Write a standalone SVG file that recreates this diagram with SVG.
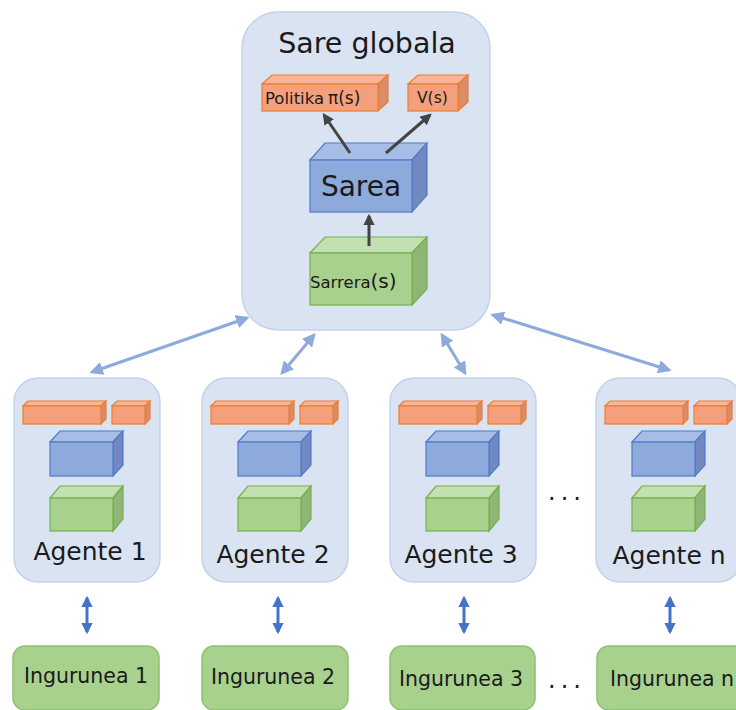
<svg xmlns="http://www.w3.org/2000/svg" width="736" height="710" viewBox="0 0 736 710">
  <defs>
    <style>
      text { font-family: "DejaVu Sans", "Liberation Sans", sans-serif; fill: #1a1a1a; }
      .panel { fill: #d9e3f2; stroke: #c3d2ea; stroke-width: 1.5; }
      .env { fill: #a9d18e; stroke: #8cc070; stroke-width: 1.5; }
      .o-front { fill: #f4a07c; stroke: #ed7d31; stroke-width: 1.2; }
      .o-top { fill: #f7b699; stroke: #ed7d31; stroke-width: 1.2; }
      .o-side { fill: #d98c6a; stroke: #ed7d31; stroke-width: 1.2; }
      .b-front { fill: #8eaadc; stroke: #4f7bc8; stroke-width: 1.2; }
      .b-top { fill: #a8bde5; stroke: #4f7bc8; stroke-width: 1.2; }
      .b-side { fill: #7189c0; stroke: #4f7bc8; stroke-width: 1.2; }
      .g-front { fill: #a9d18e; stroke: #76b04d; stroke-width: 1.2; }
      .g-top { fill: #c3e0b0; stroke: #76b04d; stroke-width: 1.2; }
      .g-side { fill: #8fb677; stroke: #76b04d; stroke-width: 1.2; }
      .link { stroke: #8eaadc; stroke-width: 3; fill: none; marker-start: url(#lh); marker-end: url(#lh); }
      .env-link { stroke: #4472c4; stroke-width: 3; fill: none; marker-start: url(#eh); marker-end: url(#eh); }
      .flow { stroke: #444; stroke-width: 3; fill: none; marker-end: url(#fh); }
      .agent-label { font-size: 25px; text-anchor: middle; }
      .env-label { font-size: 20.5px; text-anchor: middle; }
      .dots { font-size: 24px; text-anchor: middle; letter-spacing: 5px; }
    </style>
    <marker id="lh" viewBox="0 0 10 10" refX="8" refY="5" markerWidth="4.5" markerHeight="4.5" orient="auto-start-reverse">
      <path d="M0,0 L10,5 L0,10 z" fill="#8eaadc"/>
    </marker>
    <marker id="eh" viewBox="0 0 10 10" refX="8" refY="5" markerWidth="3.8" markerHeight="3.8" orient="auto-start-reverse">
      <path d="M0,0 L10,5 L0,10 z" fill="#4472c4"/>
    </marker>
    <marker id="fh" viewBox="0 0 10 10" refX="8" refY="5" markerWidth="3.8" markerHeight="3.8" orient="auto">
      <path d="M0,0 L10,5 L0,10 z" fill="#444"/>
    </marker>
    <!-- small agent model: policy/value blocks, network, input -->
    <g id="agent-blocks">
      <polygon class="o-top" points="23,406 28,401 106,401 101,406"/>
      <polygon class="o-side" points="101,406 106,401 106,419 101,424"/>
      <rect class="o-front" x="23" y="406" width="78" height="18"/>
      <polygon class="o-top" points="112,406 117,401 150,401 145,406"/>
      <polygon class="o-side" points="145,406 150,401 150,419 145,424"/>
      <rect class="o-front" x="112" y="406" width="33" height="18"/>
      <polygon class="b-top" points="50,442 60,431 123,431 113,442"/>
      <polygon class="b-side" points="113,442 123,431 123,465 113,476"/>
      <rect class="b-front" x="50" y="442" width="63" height="34"/>
      <polygon class="g-top" points="50,498 60,486 123,486 113,498"/>
      <polygon class="g-side" points="113,498 123,486 123,519 113,531"/>
      <rect class="g-front" x="50" y="498" width="63" height="33"/>
    </g>
  </defs>

  <rect width="736" height="710" fill="#ffffff"/>

  <!-- global network -->
  <g id="global">
    <rect class="panel" x="242" y="12" width="248" height="318" rx="36"/>
    <text x="367" y="53" font-size="28.5" text-anchor="middle">Sare globala</text>
    <g id="policy">
      <polygon class="o-top" points="262,84 272,75 388,75 378,84"/>
      <polygon class="o-side" points="378,84 388,75 388,102 378,111"/>
      <rect class="o-front" x="262" y="84" width="116" height="27"/>
      <text x="265" y="104" font-size="16.5"><tspan>Politika</tspan><tspan x="328" font-size="17">π(s)</tspan></text>
    </g>
    <g id="value">
      <polygon class="o-top" points="408,84 418,75 468,75 458,84"/>
      <polygon class="o-side" points="458,84 468,75 468,102 458,111"/>
      <rect class="o-front" x="408" y="84" width="50" height="27"/>
      <text x="417" y="103" font-size="15.5">V(s)</text>
    </g>
    <g id="sarea">
      <polygon class="b-top" points="310,160 325,143 427,143 412,160"/>
      <polygon class="b-side" points="412,160 427,143 427,195 412,212"/>
      <rect class="b-front" x="310" y="160" width="102" height="52"/>
      <text x="361" y="196" font-size="28" text-anchor="middle">Sarea</text>
    </g>
    <g id="sarrera">
      <polygon class="g-top" points="310,253 325,237 427,237 412,253"/>
      <polygon class="g-side" points="412,253 427,237 427,289 412,305"/>
      <rect class="g-front" x="310" y="253" width="102" height="52"/>
      <text x="310" y="288" font-size="16.5">Sarrera<tspan font-size="20">(s)</tspan></text>
    </g>
    <g id="internal-flow">
      <line class="flow" x1="350" y1="153" x2="324" y2="115"/>
      <line class="flow" x1="386" y1="153" x2="430" y2="115"/>
      <line class="flow" x1="369" y1="246" x2="369" y2="216"/>
    </g>
  </g>

  <!-- agents -->
  <g id="agent-1">
    <rect class="panel" x="14" y="378" width="146" height="204" rx="24"/>
    <use href="#agent-blocks"/>
    <text class="agent-label" x="90" y="560">Agente 1</text>
  </g>
  <g id="agent-2">
    <rect class="panel" x="202" y="378" width="146" height="204" rx="24"/>
    <use href="#agent-blocks" x="188"/>
    <text class="agent-label" x="273" y="563">Agente 2</text>
  </g>
  <g id="agent-3">
    <rect class="panel" x="390" y="378" width="146" height="204" rx="24"/>
    <use href="#agent-blocks" x="376"/>
    <text class="agent-label" x="461" y="563">Agente 3</text>
  </g>
  <g id="agent-n">
    <rect class="panel" x="596" y="378" width="146" height="204" rx="24"/>
    <use href="#agent-blocks" x="582"/>
    <text class="agent-label" x="669" y="564">Agente n</text>
  </g>
  <text class="dots" x="567" y="500">...</text>

  <!-- environments -->
  <g id="env-1">
    <rect class="env" x="13" y="646" width="146" height="64" rx="12"/>
    <text class="env-label" x="86" y="683">Ingurunea 1</text>
  </g>
  <g id="env-2">
    <rect class="env" x="202" y="646" width="146" height="64" rx="12"/>
    <text class="env-label" x="273" y="684">Ingurunea 2</text>
  </g>
  <g id="env-3">
    <rect class="env" x="390" y="646" width="145" height="64" rx="12"/>
    <text class="env-label" x="461" y="686">Ingurunea 3</text>
  </g>
  <g id="env-n">
    <rect class="env" x="597" y="646" width="150" height="64" rx="12"/>
    <text class="env-label" x="672" y="686">Ingurunea n</text>
  </g>
  <text class="dots" x="567" y="688">...</text>

  <!-- connectors -->
  <g id="connectors">
    <line class="link" x1="247" y1="318" x2="92" y2="372"/>
    <line class="link" x1="314" y1="335" x2="282" y2="373"/>
    <line class="link" x1="442" y1="335" x2="465" y2="373"/>
    <line class="link" x1="493" y1="315" x2="669" y2="370"/>
    <line class="env-link" x1="87" y1="598" x2="87" y2="632"/>
    <line class="env-link" x1="278" y1="598" x2="278" y2="632"/>
    <line class="env-link" x1="464" y1="598" x2="464" y2="632"/>
    <line class="env-link" x1="670" y1="598" x2="670" y2="632"/>
  </g>
</svg>
